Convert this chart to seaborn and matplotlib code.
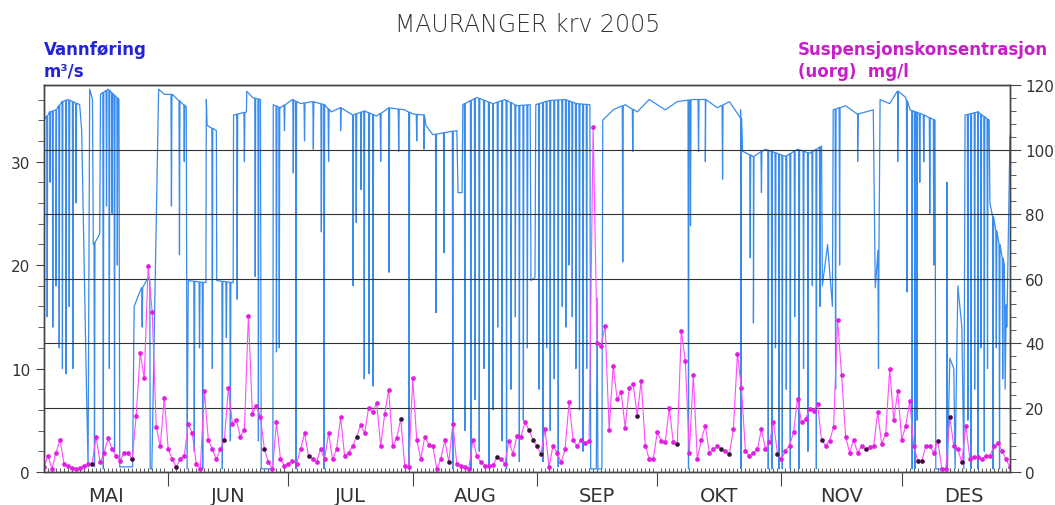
import numpy as np
import pandas as pd
import seaborn as sns
import matplotlib.pyplot as plt

sns.set_style("ticks")
plt.rcParams["font.family"] = ["DejaVu Sans"]

# x axis: days since 1 May 2005
months = ["MAI", "JUN", "JUL", "AUG", "SEP", "OKT", "NOV", "DES"]
month_start = [0, 31, 61, 92, 123, 153, 184, 214]
month_len = [31, 30, 31, 31, 30, 31, 30, 31]
x_end = 241

# Vannføring (m3/s): base level knots
base_day = [0, 1.5, 3, 4.5, 6, 8.9, 9.4, 10.6, 11, 11.4, 12.1, 12.3, 13.9, 14.1, 16, 18.7, 18.9,
            22.1, 22.5, 24, 26, 26.4, 26.5, 26.9, 27.8, 28.6, 30, 32, 34, 35.5, 35.7, 36,
            40.4, 40.5, 40.7, 43, 43.1, 47.2, 47.3, 50.5, 50.6, 52, 54, 54.2, 57.1, 57.2,
            59, 62, 64, 67, 70, 71.7, 74, 77, 80, 83, 86, 90, 92, 94.8, 95.3, 97, 100, 103,
            103.3, 104.3, 104.5, 108, 112, 115, 118, 121.3, 121.5, 122.5, 122.7, 126, 130,
            133, 136.2, 136.4, 137.8, 138, 138.2, 139.2, 139.4, 142, 145, 148, 151, 155, 158,
            162, 165, 168, 171, 173.8, 174.3, 177, 180, 185, 188, 191, 194, 194.2, 195.5,
            196.7, 196.9, 200, 203, 206.9, 207.4, 208.1, 208.6, 211, 213, 215, 216.1, 219,
            222.3, 222.5, 225.2, 225.3, 225.4, 226, 227, 227.3, 228, 229, 229.5, 229.8, 233,
            235.8, 236, 239.6, 239.8, 241]
base_q = [34, 34.8, 35, 35.8, 36, 35.5, 33, 8, 0.5, 37, 36, 22, 23, 36.5, 37, 36, 0.5,
          0.5, 16, 17.5, 18.8, 18.5, 0.3, 0.3, 20, 37, 36.5, 36.5, 35.8, 35.3, 0.3, 18.5,
          18.3, 36, 33.5, 33, 18.5, 18.3, 34.5, 34.8, 36.8, 36.2, 36, 0.3, 0.3, 35.5,
          35.2, 36, 35.6, 35.8, 35.5, 34.8, 35.2, 34.5, 34.9, 34.4, 35.2, 35, 34.6, 34.5,
          33.5, 32.6, 32.8, 33, 27, 27, 35.5, 36.2, 35.6, 36, 35.4, 35.5, 18.5, 18.8, 35.5,
          35.9, 36, 35.6, 35.5, 0.3, 0.3, 16.8, 0.3, 0.3, 34, 35, 35.5, 34.8, 36, 35, 35.8,
          36, 36, 35.2, 35.8, 35, 31, 30.5, 31.2, 30.5, 31.2, 30.8, 31.5, 18, 22,
          16, 35, 35.4, 34.6, 35, 17.8, 17.8, 36, 35.6, 36.8, 36.2, 35, 34.6,
          34, 0.3, 0.3, 28, 0.3, 11, 10, 0.3, 18, 14, 0.3, 34.5, 34.8,
          34, 26, 20, 8, 32.5]

# short shutdowns: day and lowest value of each dip
dip_day = [0.8, 1.5, 2.2, 3, 3.8, 4.6, 5.5, 6.3, 7.2, 8,
           12.6, 14.8, 15.6, 16.3, 17, 17.6, 18.3, 24.5,
           31.8, 33.8, 35,
           37.5, 38.8, 39.6, 42, 44.5, 45.5, 46.5,
           48.2, 50, 52.7, 53.5,
           58, 58.7, 60, 62.2, 62.9, 65, 67.2, 69.2, 69.9, 71,
           74, 77.1, 77.9, 79.1, 79.9, 81.1, 82.1, 84, 86.1, 88.5, 91.1, 93, 94.8,
           97.8, 99.8, 102,
           105, 106.5, 107.5, 108.6, 109.8, 111, 112, 113.2, 114.3, 115.4, 116.5,
           117.6, 118.6, 119.6, 120.6,
           123.5, 124.5, 125.4, 126.3, 127.3, 128.3, 129.3, 130.2, 131, 131.8,
           132.7, 133.6, 134.5, 135.4,
           144.4, 146.9, 160.8, 161.3, 163.3, 165, 169.3, 173.9,
           176.2, 177, 179, 180.7, 181.6, 182.5, 183.4, 184.2, 185.2, 186.2, 187.3,
           188.4, 189.5, 190.6, 191.7, 192.7, 193.6,
           197.5, 198.5, 203, 208.2,
           213, 215.3, 216.6, 217.3, 217.8, 218.5, 219.5, 221, 222,
           230.5, 231.3, 232.2, 233, 233.8, 234.6, 235.4,
           236.8, 237.6, 238.4, 239.2, 240.2]
dip_q = [15, 28, 14, 18, 12, 10, 9.5, 16, 10, 26,
         0.5, 0.3, 25.7, 10, 25, 2, 20, 14,
         25.7, 21, 30,
         2, 12, 0.3, 10, 0.3, 13, 3,
         16.7, 30, 18.9, 3,
         11.6, 12, 33, 28.9, 0.3, 32, 31.2, 23.2, 0.3, 30,
         33, 18, 24.1, 27.3, 9, 9.5, 8.3, 30, 19.3, 31, 0.3, 32, 31.2,
         15.4, 21.2, 0.3,
         4, 0.3, 7, 2, 10, 0.5, 6, 14, 3, 0.3, 8,
         15, 1, 5, 12,
         8, 1, 12, 4, 9, 0.5, 16, 14, 20, 15,
         10, 6, 2, 10,
         20.3, 31, 0.3, 23.8, 31, 30, 28.3, 0.3,
         20.7, 14.4, 27, 0.3, 0.3, 12, 0.3, 0.3, 8, 0.3, 15,
         0.3, 10, 2, 18, 0.3, 16,
         8, 20, 30, 10,
         30, 17.4, 0.3, 0.3, 5, 28, 30, 25, 20,
         5, 0.3, 8, 0.3, 12, 2, 10,
         0.3, 12, 0.3, 9, 14]

# Suspensjonskonsentrasjon (mg/l), one value per day from 1 May
conc = [1.5, 5, 1, 6, 10, 2.5, 2, 1.2, 1, 1.2, 1.8, 2.5, 2.5, 11, 3, 6, 10.5, 7, 5, 3.5,
        6, 6, 4, 17.5, 37, 29, 64, 49.5, 14, 8, 23, 7, 4, 1.5, 4, 5, 15, 12, 2.5, 1,
        25, 10, 7, 4, 7, 10, 26, 15, 16, 11, 13, 48.5, 18, 20.5, 17, 7, 3, 1, 15.4, 4,
        2, 2.5, 3.5, 2.5, 7, 12, 5, 4, 3, 7, 4, 12, 4, 7, 17, 5, 6, 8, 11, 14.5,
        12, 20, 18.5, 21.5, 8, 18, 25.5, 8, 10.5, 16.5, 2, 1.5, 29, 10, 4, 11, 8.5, 8, 1, 4,
        10, 3, 15, 2.5, 2, 1.5, 1, 10, 5, 3, 2, 2, 2.2, 4.5, 4, 2.5, 9.7, 5.6, 11.3, 11,
        15.4, 13, 10, 8, 5.6, 13.3, 1.5, 8.2, 6, 3, 7, 21.6, 10, 8, 10, 9, 9.7, 107, 40, 39,
        45.4, 13, 33, 22.6, 24.7, 13.8, 26, 27.3, 17.5, 28.3, 8.2, 4, 4, 12.3, 9.7, 9.2, 20, 9.2, 8.7, 43.8,
        34.5, 6, 30, 4, 10, 14.4, 6, 7, 8, 7, 6.4, 5.6, 13.3, 36.6, 26, 6.6, 5, 6, 7, 13.3,
        7, 9.2, 15.4, 5.6, 4, 6.6, 8.2, 12.3, 22.6, 15.4, 16.4, 19.5, 19, 21, 10, 8.2, 9.7, 14, 47, 30,
        11, 6, 10, 6, 8, 7, 7.6, 8, 18.5, 8.7, 11.8, 32, 16, 25, 10, 14.4, 22, 8, 3.5, 3.5,
        8, 8, 6, 9.7, 1, 1, 17, 8, 7, 3, 14.4, 4, 4.6, 4.6, 4, 5, 5, 8, 9, 6.6,
        4, 1.5]
# days drawn with a dark marker
black_days = [12, 22, 33, 45, 55, 66, 78, 89, 101, 113, 121, 122, 123, 124, 148, 158,
              169, 171, 183, 194, 205, 218, 219, 223, 226, 229]

# assemble discharge line: base knots plus a narrow notch for every dip
pts = list(zip(base_day, base_q))
for d, lo in zip(dip_day, dip_q):
    b = float(np.interp(d, base_day, base_q))
    pts += [(d - 0.12, b), (d, lo), (d + 0.12, b)]
pts.sort(key=lambda p: p[0])
q_df = pd.DataFrame(pts, columns=["day", "q"])
c_df = pd.DataFrame({"day": np.arange(len(conc)), "c": conc})
blk = c_df[c_df["day"].isin(black_days)]

fig = plt.figure(figsize=(10.55, 5.06), dpi=100)
ax = fig.add_axes([0.0417, 0.0652, 0.9156, 0.7648])
ax2 = ax.twinx()

sns.lineplot(data=q_df, x="day", y="q", ax=ax, color="#3a8cec", lw=0.9,
             sort=False, estimator=None)
sns.lineplot(data=c_df, x="day", y="c", ax=ax2, color="#ff4cff", lw=0.8,
             marker="o", markersize=3.4, markeredgewidth=0, markerfacecolor="#e020e0",
             sort=False, estimator=None)
sns.scatterplot(data=blk, x="day", y="c", ax=ax2, color="#222222", s=9,
                linewidth=0, zorder=5)

ax.set_xlim(0, x_end)
ax.set_ylim(0, 37.4)
ax2.set_ylim(0, 120)
for a in (ax, ax2):
    a.set_xlabel("")
    a.set_ylabel("")
    for s in a.spines.values():
        s.set_color("#444444")
        s.set_linewidth(1)

ax.set_yticks([0, 10, 20, 30])
ax.set_yticks(np.arange(0, 37, 2), minor=True)
ax2.set_yticks(range(0, 121, 20))
ax2.set_yticks(range(0, 121, 4), minor=True)
ax2.grid(True, axis="y", color="#333333", lw=0.8)

ax.set_xticks(month_start[1:])
ax.set_xticklabels([])
ax.set_xticks(np.arange(1, x_end), minor=True)
ax.tick_params(axis="x", which="major", direction="out", length=10, color="#444")
ax.tick_params(axis="x", which="minor", direction="in", length=3, color="#444")
ax.tick_params(axis="y", which="major", direction="out", length=6, labelsize=11,
               labelcolor="#333", color="#444", pad=4)
ax.tick_params(axis="y", which="minor", direction="out", length=4, color="#444")
ax2.tick_params(axis="y", which="major", direction="out", length=8, labelsize=11,
                labelcolor="#333", color="#444", pad=3)
ax2.tick_params(axis="y", which="minor", direction="out", length=4, color="#444")

for name, st, ln in zip(months, month_start, month_len):
    ax.text(st + ln / 2, -0.06, name, transform=ax.get_xaxis_transform(),
            ha="center", va="center", fontsize=14, color="#333")

fig.text(0.5, 0.951, "MAURANGER krv 2005", ha="center", va="center",
         fontsize=17, color="#333", fontweight="light")
fig.text(0.0417, 0.901, "Vannføring", ha="left", va="center", fontsize=12,
         fontweight="bold", color="#2323d8")
fig.text(0.0417, 0.858, "m³/s", ha="left", va="center", fontsize=12,
         fontweight="bold", color="#2323d8")
fig.text(0.7564, 0.901, "Suspensjonskonsentrasjon", ha="left", va="center",
         fontsize=12, fontweight="bold", color="#c81ec8")
fig.text(0.7564, 0.858, "(uorg)  mg/l", ha="left", va="center", fontsize=12,
         fontweight="bold", color="#c81ec8")

fig.savefig("out.png", dpi=100)
